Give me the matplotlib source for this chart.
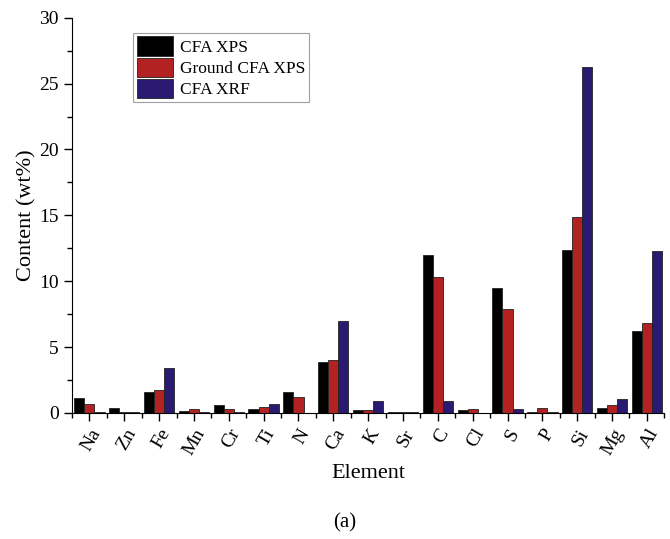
import matplotlib
matplotlib.use("Agg")
import matplotlib.pyplot as plt
import numpy as np
from matplotlib.ticker import MultipleLocator

plt.rcParams['font.family'] = ['Liberation Serif', 'DejaVu Serif']
plt.rcParams['mathtext.fontset'] = 'stix'

# element content (wt%)
elements = ['Na', 'Zn', 'Fe', 'Mn', 'Cr', 'Ti', 'N', 'Ca', 'K', 'Sr',
            'C', 'Cl', 'S', 'P', 'Si', 'Mg', 'Al']
cfa_xps = [1.15, 0.38, 1.6, 0.15, 0.6, 0.3, 1.55, 3.9, 0.25, 0.05,
           12.0, 0.2, 9.45, 0.1, 12.4, 0.35, 6.2]
ground_xps = [0.7, 0.05, 1.75, 0.28, 0.3, 0.45, 1.2, 4.0, 0.25, 0.05,
              10.35, 0.3, 7.85, 0.4, 14.85, 0.6, 6.85]
cfa_xrf = [0.03, 0.05, 3.4, 0.1, 0.03, 0.65, 0.0, 7.0, 0.9, 0.1,
           0.9, 0.0, 0.3, 0.05, 26.3, 1.05, 12.3]
series_names = ['CFA XPS', 'Ground CFA XPS', 'CFA XRF']
colors = ['#000000', '#b22222', '#2b1a72']

fig = plt.figure(figsize=(6.7, 5.39), dpi=100)
ax = fig.add_axes([0.1075, 0.234, 0.884, 0.733])

x = np.arange(len(elements))
w = 0.29
for i, (vals, name, c) in enumerate(zip([cfa_xps, ground_xps, cfa_xrf], series_names, colors)):
    ax.bar(x + (i - 1) * w, vals, width=w, color=c, edgecolor='#222222',
           linewidth=0.6, label=name)

ax.set_xlim(-0.5, len(elements) - 0.5)
ax.set_ylim(0, 30)
ax.spines['top'].set_visible(False)
ax.spines['right'].set_visible(False)

ax.yaxis.set_major_locator(MultipleLocator(5))
ax.yaxis.set_minor_locator(MultipleLocator(2.5))
ax.set_xticks(x)
ax.set_xticks(np.arange(-0.5, len(elements), 1.0), minor=True)
ax.set_xticklabels(elements, rotation=60, ha='right', rotation_mode='anchor')
ax.tick_params(axis='both', which='major', direction='out', length=6, width=1, labelsize=14)
ax.tick_params(axis='both', which='minor', direction='out', length=3.5, width=1)

ax.set_ylabel('Content (wt%)', fontsize=16, labelpad=2)
ax.set_xlabel('Element', fontsize=16, labelpad=4)

leg = ax.legend(loc='upper left', bbox_to_anchor=(0.103, 0.962), fontsize=12.5,
                frameon=True, fancybox=False, edgecolor='#888888',
                handlelength=2.1, handleheight=1.35, handletextpad=0.4,
                labelspacing=0.1, borderpad=0.2, borderaxespad=0)
leg.get_frame().set_linewidth(0.8)

fig.text(0.515, 0.012, '(a)', ha='center', va='bottom', fontsize=15)

fig.savefig('out.png', dpi=100)
